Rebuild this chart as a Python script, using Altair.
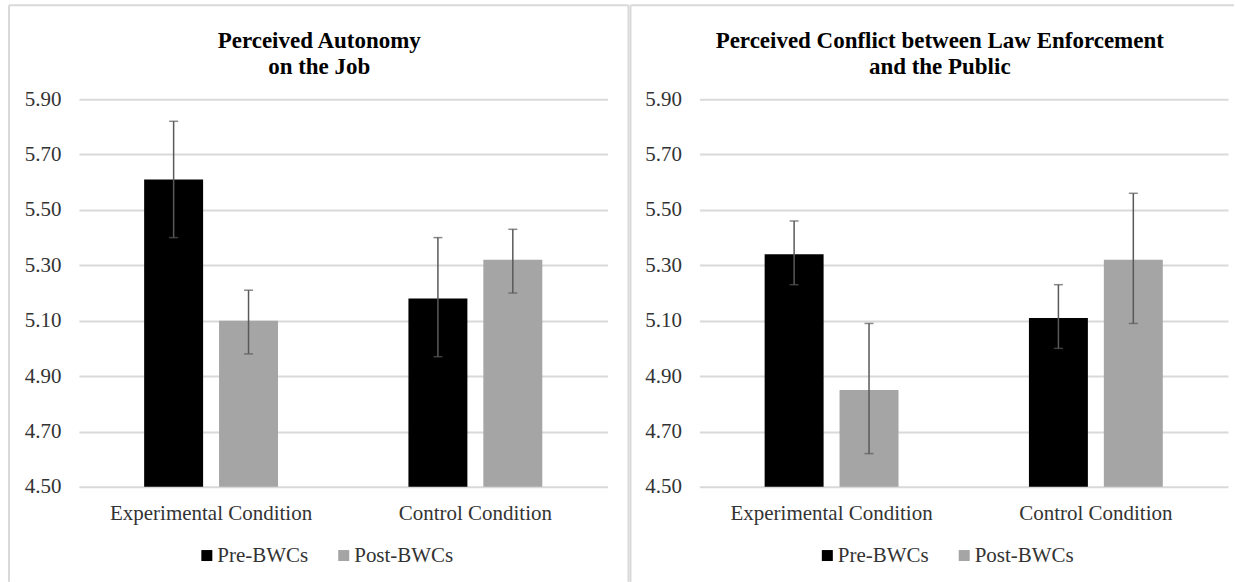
import altair as alt
import pandas as pd

# ---- data ----
conditions = ["Experimental Condition", "Control Condition"]
phases = ["Pre-BWCs", "Post-BWCs"]
y_ticks = [4.5, 4.7, 4.9, 5.1, 5.3, 5.5, 5.7, 5.9]

autonomy_title = ["Perceived Autonomy", "on the Job"]
# order: (Experimental, Pre), (Experimental, Post), (Control, Pre), (Control, Post)
autonomy_mean = [5.61, 5.10, 5.18, 5.32]
autonomy_lo = [5.40, 4.98, 4.97, 5.20]
autonomy_hi = [5.82, 5.21, 5.40, 5.43]

conflict_title = ["Perceived Conflict between Law Enforcement", "and the Public"]
conflict_mean = [5.34, 4.85, 5.11, 5.32]
conflict_lo = [5.23, 4.62, 5.00, 5.09]
conflict_hi = [5.46, 5.09, 5.23, 5.56]

FONT = "Liberation Serif"
TEXT = "#333333"
GRID = "#d9d9d9"
ERR = "#595959"
BAR_COLORS = ["#000000", "#a5a5a5"]
W, H = 529, 388


def make_df(mean, lo, hi):
    rows = []
    i = 0
    for c in conditions:
        for p in phases:
            rows.append({"condition": c, "phase": p, "mean": mean[i], "lo": lo[i], "hi": hi[i]})
            i += 1
    return pd.DataFrame(rows)


def panel(title_lines, mean, lo, hi, border_left, border_right, top_right):
    df = make_df(mean, lo, hi)
    one = pd.DataFrame({"k": [0]})
    xenc = alt.X(
        "condition:N", sort=conditions,
        scale=alt.Scale(domain=conditions, paddingInner=0.433, paddingOuter=0.2165),
        axis=alt.Axis(title=None, labelAngle=0, domain=False, ticks=False, labelPadding=16,
                      labelFont=FONT, labelFontSize=21, labelColor=TEXT, labelLimit=400),
    )
    xoff = alt.XOffset("phase:N", sort=phases,
                       scale=alt.Scale(domain=phases, paddingInner=0.213, paddingOuter=0.1067))
    yscale = alt.Scale(domain=[4.5, 5.9], nice=False, zero=False)
    yaxis = alt.Axis(values=y_ticks, format=".2f", title=None, domain=False, ticks=False,
                     grid=True, gridColor=GRID, gridWidth=2, labelFont=FONT, labelFontSize=21,
                     labelColor=TEXT, labelPadding=18)

    borders = []
    segs = [(border_left, border_left, -94, 483)]
    if border_right is not None:
        segs.append((border_right, border_right, -94, 483))
    segs.append((border_left, top_right, -94, -94))
    for x1, x2, y1, y2 in segs:
        borders.append(
            alt.Chart(one).mark_rule(color=GRID, strokeWidth=2).encode(
                x=alt.value(x1), x2=alt.value(x2), y=alt.value(y1), y2=alt.value(y2))
        )

    bars = alt.Chart(df).mark_bar().encode(
        x=xenc, xOffset=xoff,
        y=alt.Y("mean:Q", scale=yscale, axis=yaxis),
        y2=alt.datum(4.5),
        color=alt.Color("phase:N", sort=phases,
                        scale=alt.Scale(domain=phases, range=BAR_COLORS),
                        legend=alt.Legend(orient="none", legendX=117.5, legendY=446,
                                          direction="horizontal", title=None,
                                          symbolType="square", symbolSize=121,
                                          symbolStrokeWidth=0, labelFont=FONT,
                                          labelFontSize=21, labelColor=TEXT,
                                          labelOffset=0, columnPadding=25, padding=0)),
    )
    err = alt.Chart(df).mark_rule(color=ERR, strokeWidth=1.5).encode(
        x=xenc, xOffset=xoff,
        y=alt.Y("lo:Q", scale=yscale, axis=yaxis), y2="hi:Q")
    cap_lo = alt.Chart(df).mark_tick(color=ERR, thickness=1.5, size=9).encode(
        x=xenc, xOffset=xoff, y=alt.Y("lo:Q", scale=yscale, axis=yaxis))
    cap_hi = alt.Chart(df).mark_tick(color=ERR, thickness=1.5, size=9).encode(
        x=xenc, xOffset=xoff, y=alt.Y("hi:Q", scale=yscale, axis=yaxis))
    title = alt.Chart(one).mark_text(
        text=title_lines, font=FONT, fontSize=23, fontWeight="bold", color="black",
        align="center", baseline="alphabetic", lineHeight=26,
    ).encode(x=alt.value(240.5), y=alt.value(-50.7))

    return alt.layer(*borders, bars, err, cap_lo, cap_hi, title).properties(width=W, height=H)


left = panel(autonomy_title, autonomy_mean, autonomy_lo, autonomy_hi, -70, 550, 550)
right = panel(conflict_title, conflict_mean, conflict_lo, conflict_hi, -69, None, 535)

chart = alt.hconcat(left, right, spacing=92, bounds="flush").resolve_scale(
    color="independent").resolve_legend(color="independent").properties(
    padding={"left": 8, "top": 4, "right": 0, "bottom": 0},
    background="white",
).configure_view(stroke=None)

chart.save("out.html", embed_options={"renderer": "svg", "actions": False})
